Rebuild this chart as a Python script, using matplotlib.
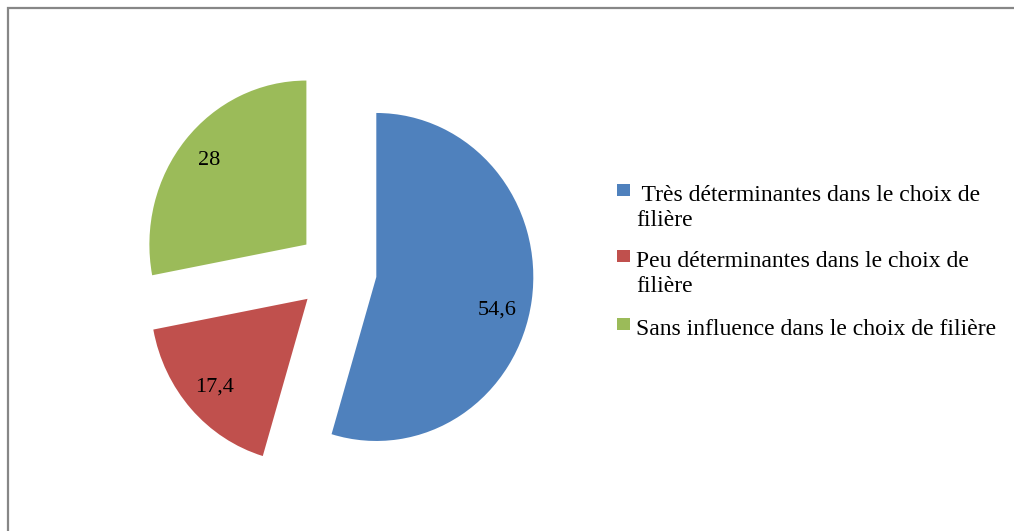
import matplotlib.pyplot as plt
from matplotlib.patches import Rectangle

# donnees
categories = [" Très déterminantes dans le choix de\nfilière",
              "Peu déterminantes dans le choix de\nfilière",
              "Sans influence dans le choix de filière"]
valeurs = [54.6, 17.4, 28]
couleurs = ["#4F81BD", "#C0504D", "#9BBB59"]

W, H = 1014, 531
fig = plt.figure(figsize=(W / 100, H / 100), dpi=100)
plt.rcParams['font.family'] = ['Liberation Serif', 'DejaVu Serif']

# cadre gris autour du graphique
fig.patches.append(Rectangle((7.5 / W, -0.1), 1.2, 1.1 - 7.5 / H, transform=fig.transFigure,
                             fill=False, edgecolor="#878787", linewidth=1.6))

# axe du camembert : centre (337, 271) px, rayon 157 px en x, 164 px en y (image etiree)
Rx, Ry = 157.0, 164.0
demi = 250.0
cx, cy = 337, 271
ax = fig.add_axes([(cx - demi) / W, (H - cy - demi) / H, 2 * demi / W, 2 * demi / H])
wedges, textes, pcts = ax.pie(valeurs, colors=couleurs, startangle=90, counterclock=False,
                              explode=[0.253] * len(valeurs), radius=1,
                              autopct=lambda p: "", pctdistance=0.80,
                              wedgeprops=dict(linewidth=0))
for t, v in zip(pcts, valeurs):
    t.set_text(("%g" % v).replace(".", ","))
    t.set_fontsize(16)
    t.set_color("black")
# petit decalage de l'etiquette bleue comme dans l'original
x, y = pcts[0].get_position()
pcts[0].set_position((x - 0.02, y - 0.087))
ax.set_aspect("auto")
ax.set_xlim(-demi / Rx, demi / Rx)
ax.set_ylim(-demi / Ry, demi / Ry)
ax.set_axis_off()

# legende
lignes_y = [201, 267, 335]
interligne = 24.5
for cat, col, y0 in zip(categories, couleurs, lignes_y):
    fig.patches.append(Rectangle((617 / W, (H - y0 + 5) / H), 13 / W, 12 / H,
                                 transform=fig.transFigure, facecolor=col, edgecolor="none"))
    for i, ligne in enumerate(cat.split("\n")):
        fig.text(636 / W, (H - y0 - i * interligne) / H, ligne, fontsize=17,
                 va="baseline", ha="left")

fig.savefig("out.png", dpi=100)
